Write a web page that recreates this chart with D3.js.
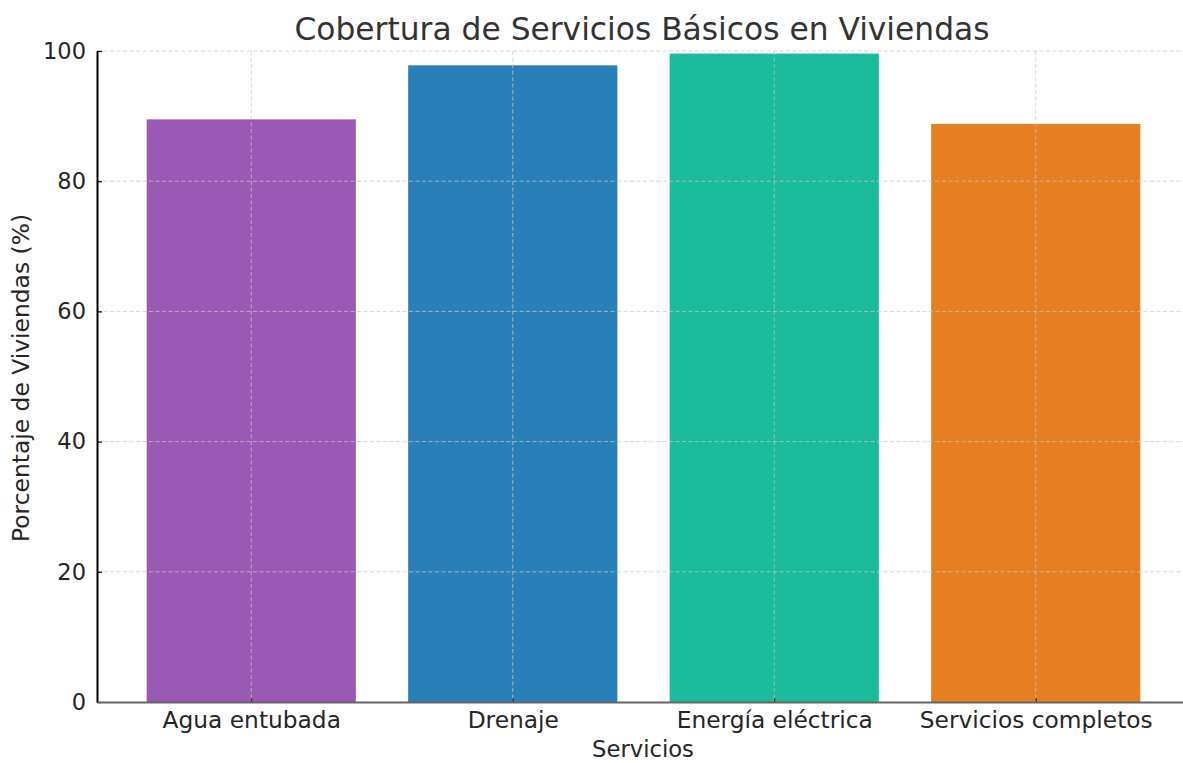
<!DOCTYPE html>
<html>
<head>
<meta charset="utf-8">
<script src="https://cdnjs.cloudflare.com/ajax/libs/d3/7.8.5/d3.min.js"></script>
<style>
  body { margin: 0; background: #fff; }
  text { font-family: "DejaVu Sans", sans-serif; fill: #262626; }
</style>
</head>
<body>
<div id="chart"></div>
<script>
// data
var servicios = ["Agua entubada", "Drenaje", "Energía eléctrica", "Servicios completos"];
var porcentajes = [89.5, 97.8, 99.6, 88.8];
var colores = ["#9b59b6", "#2980b9", "#1abc9c", "#e67e22"];
var yTicks = [0, 20, 40, 60, 80, 100];

var width = 1183, height = 763;

var svg = d3.select("#chart")
  .append("svg")
    .attr("width", width)
    .attr("height", height);

// plot area runs a little past the right edge, as in the picture
var x = d3.scaleLinear()
    .domain([-0.59, servicios.length - 1 + 0.59])
    .range([97, 1190]);

var y = d3.scaleLinear()
    .domain([0, 100])
    .range([702, 51]);

var barW = (x(1) - x(0)) * 0.8;

// bars
svg.append("g")
  .selectAll("rect")
  .data(porcentajes)
  .enter()
  .append("rect")
    .attr("x", function(d, i){ return x(i) - barW / 2; })
    .attr("y", function(d){ return y(d); })
    .attr("width", barW)
    .attr("height", function(d){ return y(0) - y(d); })
    .style("fill", function(d, i){ return colores[i]; });

// grid, drawn over the bars
var grid = svg.append("g")
    .style("stroke", "#c8c8c8")
    .style("stroke-opacity", 0.75)
    .style("stroke-width", 1)
    .style("stroke-dasharray", "4,2.5");

grid.selectAll("line.h")
  .data(yTicks.slice(1))
  .enter()
  .append("line")
    .attr("class", "h")
    .attr("x1", x.range()[0])
    .attr("x2", x.range()[1])
    .attr("y1", function(d){ return y(d); })
    .attr("y2", function(d){ return y(d); });

grid.selectAll("line.v")
  .data(servicios)
  .enter()
  .append("line")
    .attr("class", "v")
    .attr("x1", function(d, i){ return x(i); })
    .attr("x2", function(d, i){ return x(i); })
    .attr("y1", y(100))
    .attr("y2", y(0));

// y axis
var yAxis = svg.append("g")
    .attr("transform", "translate(" + x.range()[0] + ",0)")
    .call(d3.axisLeft(y).tickValues(yTicks).tickSizeInner(-5).tickSizeOuter(0).tickPadding(11));

yAxis.select(".domain").attr("stroke", "#000").attr("stroke-width", 2);
yAxis.selectAll(".tick line").attr("stroke", "#000").attr("stroke-width", 1.2);
yAxis.selectAll(".tick text")
    .style("font-size", "22.5px")
    .attr("fill", "#262626");

// x axis
var xAxis = svg.append("g")
    .attr("transform", "translate(0," + y(0) + ")")
    .call(d3.axisBottom(x)
      .tickValues(d3.range(servicios.length))
      .tickFormat(function(i){ return servicios[i]; })
      .tickSizeInner(-4).tickSizeOuter(0).tickPadding(9));

xAxis.select(".domain").attr("stroke", "#666").attr("stroke-width", 2);
xAxis.selectAll(".tick line").attr("stroke", "#333").attr("stroke-width", 1.2);
xAxis.selectAll(".tick text")
    .style("font-size", "23.3px")
    .attr("fill", "#262626");

// title and labels
svg.append("text")
    .attr("x", 642)
    .attr("y", 40)
    .attr("text-anchor", "middle")
    .style("font-size", "31.3px")
    .style("fill", "#333")
    .text("Cobertura de Servicios Básicos en Viviendas");

svg.append("text")
    .attr("x", 643)
    .attr("y", 757)
    .attr("text-anchor", "middle")
    .style("font-size", "22.7px")
    .text("Servicios");

svg.append("text")
    .attr("transform", "translate(29,378) rotate(-90)")
    .attr("text-anchor", "middle")
    .style("font-size", "23.4px")
    .text("Porcentaje de Viviendas (%)");
</script>
</body>
</html>
